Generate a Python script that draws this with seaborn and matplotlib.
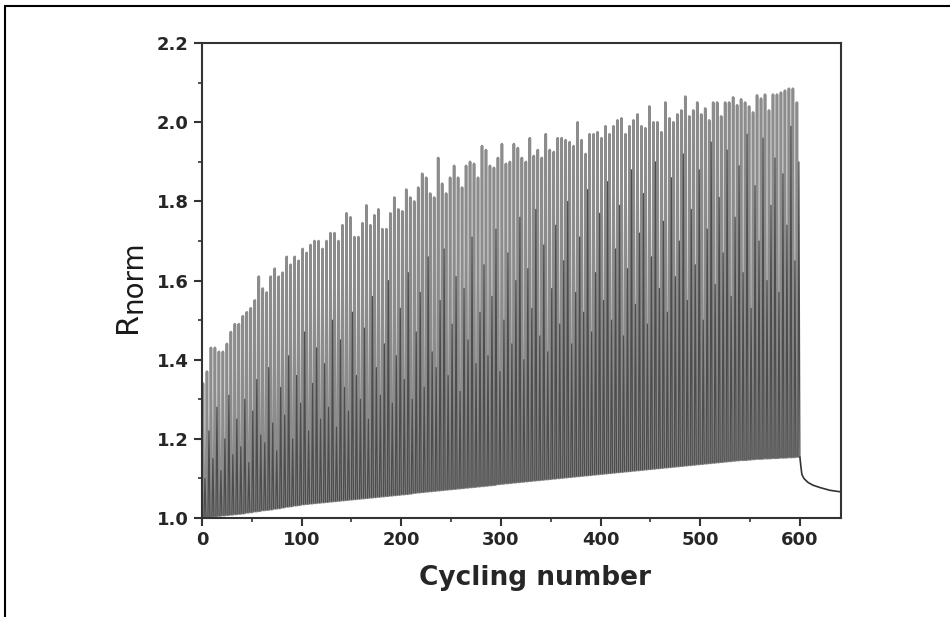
import numpy as np
import pandas as pd
import seaborn as sns
import matplotlib.pyplot as plt
from matplotlib.lines import Line2D
from matplotlib.ticker import MultipleLocator

# main spike of every 4-cycle block (peaks near cycles 1, 5, ..., 597)
peaks = [
    1.34, 1.37, 1.43, 1.43, 1.42, 1.42, 1.44, 1.47, 1.49, 1.49,
    1.51, 1.52, 1.53, 1.55, 1.61, 1.58, 1.57, 1.61, 1.63, 1.61,
    1.62, 1.66, 1.64, 1.66, 1.65, 1.68, 1.67, 1.69, 1.70, 1.70,
    1.68, 1.70, 1.72, 1.72, 1.70, 1.74, 1.77, 1.76, 1.71, 1.71,
    1.745, 1.79, 1.74, 1.765, 1.78, 1.73, 1.73, 1.77, 1.81, 1.78,
    1.775, 1.83, 1.81, 1.80, 1.835, 1.87, 1.86, 1.82, 1.81, 1.91,
    1.845, 1.82, 1.86, 1.89, 1.86, 1.835, 1.89, 1.90, 1.895, 1.86,
    1.94, 1.93, 1.89, 1.885, 1.91, 1.945, 1.895, 1.90, 1.945, 1.935,
    1.91, 1.90, 1.96, 1.915, 1.93, 1.91, 1.97, 1.93, 1.925, 1.96,
    1.96, 1.955, 1.95, 1.94, 2.00, 1.955, 1.92, 1.97, 1.97, 1.975,
    1.96, 1.99, 1.97, 1.99, 2.005, 2.01, 1.97, 1.99, 2.005, 2.02,
    1.99, 1.985, 2.04, 2.00, 2.00, 1.975, 2.05, 2.01, 2.00, 2.02,
    2.03, 2.065, 2.015, 2.03, 2.05, 2.02, 2.035, 2.005, 2.05, 2.05,
    2.015, 2.05, 2.05, 2.063, 2.043, 2.058, 2.05, 2.04, 2.025, 2.068,
    2.06, 2.07, 2.03, 2.07, 2.07, 2.075, 2.08, 2.085, 2.085, 2.05,
]
# smaller (darker) spike inside each block (cycles 3, 7, ..., 599)
sub_peaks = [
    1.10, 1.22, 1.15, 1.28, 1.12, 1.20, 1.31, 1.16, 1.25, 1.18,
    1.30, 1.14, 1.27, 1.35, 1.21, 1.19, 1.38, 1.24, 1.17, 1.33,
    1.26, 1.41, 1.20, 1.36, 1.29, 1.47, 1.22, 1.34, 1.43, 1.25,
    1.39, 1.28, 1.50, 1.23, 1.45, 1.33, 1.27, 1.52, 1.36, 1.30,
    1.48, 1.25, 1.56, 1.38, 1.31, 1.44, 1.60, 1.29, 1.41, 1.53,
    1.35, 1.62, 1.30, 1.47, 1.57, 1.33, 1.66, 1.42, 1.38, 1.55,
    1.68, 1.36, 1.49, 1.61, 1.32, 1.58, 1.45, 1.71, 1.39, 1.52,
    1.64, 1.41, 1.56, 1.73, 1.37, 1.50, 1.67, 1.44, 1.60, 1.76,
    1.40, 1.63, 1.53, 1.78, 1.46, 1.69, 1.42, 1.58, 1.74, 1.49,
    1.65, 1.80, 1.44, 1.57, 1.71, 1.52, 1.83, 1.47, 1.62, 1.77,
    1.55, 1.85, 1.50, 1.68, 1.79, 1.46, 1.63, 1.88, 1.54, 1.72,
    1.82, 1.49, 1.66, 1.90, 1.58, 1.75, 1.52, 1.86, 1.61, 1.70,
    1.92, 1.55, 1.78, 1.64, 1.88, 1.50, 1.73, 1.95, 1.59, 1.81,
    1.67, 1.93, 1.56, 1.76, 1.89, 1.62, 1.97, 1.53, 1.84, 1.70,
    1.96, 1.60, 1.79, 1.91, 1.57, 1.87, 1.74, 1.99, 1.65, 1.90,
]
# baseline at the start of each block (cycles 0, 4, ..., 596)
valleys = [
    1.000, 1.002, 1.004, 1.005, 1.006, 1.007, 1.008, 1.009, 1.010, 1.011,
    1.012, 1.014, 1.015, 1.017, 1.018, 1.020, 1.021, 1.022, 1.024, 1.025,
    1.027, 1.029, 1.030, 1.032, 1.033, 1.035, 1.036, 1.037, 1.038, 1.039,
    1.040, 1.041, 1.042, 1.043, 1.044, 1.045, 1.046, 1.047, 1.048, 1.049,
    1.050, 1.051, 1.052, 1.053, 1.054, 1.055, 1.056, 1.057, 1.058, 1.059,
    1.060, 1.061, 1.062, 1.064, 1.065, 1.066, 1.067, 1.068, 1.069, 1.070,
    1.071, 1.072, 1.073, 1.074, 1.075, 1.076, 1.077, 1.078, 1.079, 1.080,
    1.081, 1.082, 1.083, 1.084, 1.086, 1.087, 1.088, 1.089, 1.090, 1.091,
    1.092, 1.093, 1.094, 1.095, 1.096, 1.097, 1.098, 1.099, 1.100, 1.101,
    1.102, 1.103, 1.104, 1.105, 1.106, 1.107, 1.108, 1.109, 1.110, 1.111,
    1.112, 1.113, 1.114, 1.115, 1.116, 1.117, 1.118, 1.119, 1.120, 1.121,
    1.122, 1.123, 1.124, 1.125, 1.126, 1.127, 1.128, 1.129, 1.130, 1.131,
    1.132, 1.133, 1.134, 1.135, 1.136, 1.137, 1.138, 1.139, 1.140, 1.141,
    1.142, 1.143, 1.144, 1.145, 1.146, 1.147, 1.147, 1.148, 1.149, 1.150,
    1.150, 1.151, 1.151, 1.152, 1.152, 1.153, 1.153, 1.154, 1.154, 1.155,
]
# relaxation after cycling stops
tail_cycle = [600, 601, 602, 604, 608, 613, 620, 630, 641]
tail_r = [1.154, 1.13, 1.11, 1.10, 1.09, 1.083, 1.077, 1.07, 1.066]

n = len(peaks)
main_x, main_y, sub_x, sub_y = [], [], [], []
for i in range(n):
    v = valleys[i]
    v_next = valleys[i + 1] if i + 1 < n else tail_r[0]
    main_x += [4 * i, 4 * i + 1, 4 * i + 2]
    main_y += [v, peaks[i], v]
    sub_x += [np.nan, 4 * i + 2, 4 * i + 3, 4 * i + 4]
    sub_y += [np.nan, v, sub_peaks[i], v_next]
main = pd.DataFrame({"cycle": main_x, "R": main_y})
sub = pd.DataFrame({"cycle": sub_x, "R": sub_y})
tail = pd.DataFrame({"cycle": tail_cycle, "R": tail_r})

sns.set_style("white")
plt.rcParams["font.family"] = ["DejaVu Sans"]

W, H = 950, 617
fig = plt.figure(figsize=(9.5, 6.17), dpi=100)
ax = fig.add_axes([0.2126, 0.1605, 0.6724, 0.7695])
sns.lineplot(data=main, x="cycle", y="R", sort=False, estimator=None,
             color="0.55", lw=1.9, ax=ax)
ax.plot(sub["cycle"], sub["R"], color="0.3", lw=0.9)
sns.lineplot(data=tail, x="cycle", y="R", sort=False, estimator=None,
             color="0.2", lw=1.2, ax=ax)

ax.set_xlim(0, 641)
ax.set_ylim(1.0, 2.2)
ax.xaxis.set_major_locator(MultipleLocator(100))
ax.xaxis.set_minor_locator(MultipleLocator(50))
ax.yaxis.set_major_locator(MultipleLocator(0.2))
ax.yaxis.set_minor_locator(MultipleLocator(0.1))
ax.yaxis.set_major_formatter(plt.FormatStrFormatter("%.1f"))
ax.tick_params(which="major", direction="out", length=6, width=1.5,
               labelsize=13, bottom=True, left=True, color="0.2")
ax.tick_params(which="minor", direction="out", length=3, width=1.2,
               bottom=True, left=True, color="0.2")
for lab in ax.get_xticklabels() + ax.get_yticklabels():
    lab.set_fontweight("bold")
for s in ax.spines.values():
    s.set_linewidth(1.5)
    s.set_color("0.2")

ax.set_xlabel("Cycling number", fontsize=19, fontweight="bold")
ax.xaxis.set_label_coords(0.521, -0.098)
ax.set_ylabel("")
# y label: R with a large subscript "norm"
fig.text(136 / W, 1 - 333 / H, "R", fontsize=22, rotation=90,
         rotation_mode="anchor", ha="left", va="baseline", color="0.1")
fig.text(141 / W, 1 - 313 / H, "norm", fontsize=20, rotation=90,
         rotation_mode="anchor", ha="left", va="baseline", color="0.1")

# frame of the original figure
fig.add_artist(Line2D([0.005, 1.0], [0.99, 0.99], color="black", lw=1.5,
                      transform=fig.transFigure))
fig.add_artist(Line2D([0.005, 0.005], [0.0, 0.99], color="black", lw=1.5,
                      transform=fig.transFigure))

fig.savefig("out.png", dpi=100)
